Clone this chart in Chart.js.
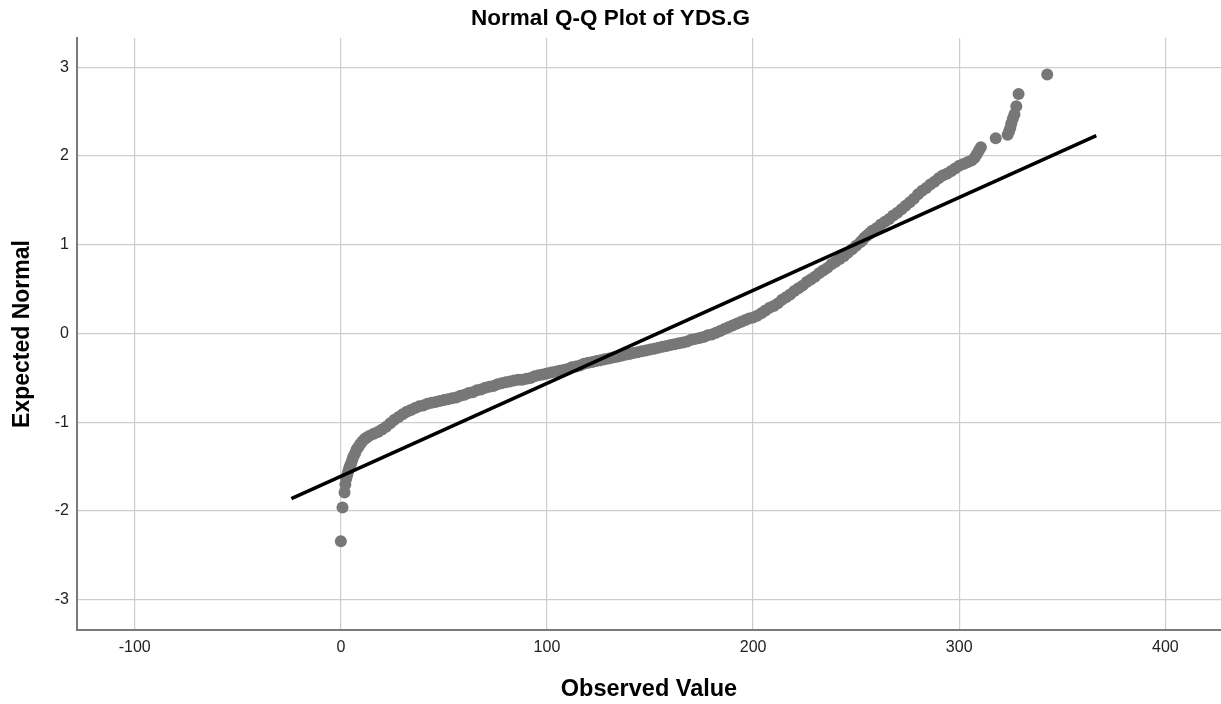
<!DOCTYPE html>
<html>
<head>
<meta charset="utf-8">
<script src="https://cdn.jsdelivr.net/npm/chart.js@4.4.1/dist/chart.umd.min.js"></script>
<style>
  html, body { margin: 0; padding: 0; background: #fff; }
  #wrap { width: 1221px; height: 704px; }
</style>
</head>
<body>
<div id="wrap"><canvas id="myChart"></canvas></div>
<script>
// observed YDS.G values and their expected normal scores
var observed = [0, 0.8, 1.8, 2.2, 2.6, 3.0, 3.5, 4.0, 4.5, 5.0, 5.6, 6.2, 6.9, 7.6, 8.4, 9.3, 10.3, 11.4, 12.6, 14,
    16, 18, 20, 22, 24, 26, 28, 30, 32, 34, 36, 38, 40, 42, 44, 46, 48, 50, 52, 54,
    56, 58, 60, 62, 64, 66, 68, 70, 72, 74, 76, 78, 80, 82, 84, 86, 88, 90, 92, 94,
    96, 98, 100, 102, 104, 106, 108, 110, 112, 114, 116, 118, 120, 122, 124, 126, 128, 130, 132, 134,
    136, 138, 140, 142, 144, 146, 148, 150, 152, 154, 156, 158, 160, 162, 164, 166, 168, 170, 172, 174,
    176, 178, 180, 182, 184, 186, 188, 190, 192, 194, 196, 198, 200, 202, 204, 206, 208, 210, 212, 214,
    216, 218, 220, 222, 224, 226, 228, 230, 232, 234, 236, 238, 240, 242, 244, 246, 248, 250, 252, 253,
    254, 255, 256, 257, 258, 260, 262, 264, 266, 268, 270, 272, 274, 276, 278, 280, 282, 284, 286, 288,
    290, 292, 294, 296, 298, 300, 302, 304, 306, 307.5, 308.5, 309.5, 310.5, 317.7, 323.5, 324.2, 324.8, 325.3, 326, 326.8,
    327.7, 328.8, 342.7]
var expected = [-2.34, -1.96, -1.79, -1.70, -1.64, -1.60, -1.56, -1.52, -1.49, -1.46, -1.42, -1.38, -1.35, -1.31, -1.28, -1.25, -1.22, -1.19, -1.17, -1.15,
    -1.13, -1.11, -1.08, -1.05, -1.01, -0.97, -0.94, -0.91, -0.88, -0.86, -0.84, -0.82, -0.81, -0.79, -0.78, -0.77, -0.76, -0.75, -0.74, -0.73,
    -0.72, -0.70, -0.69, -0.67, -0.66, -0.64, -0.63, -0.61, -0.60, -0.59, -0.57, -0.56, -0.55, -0.54, -0.53, -0.52, -0.52, -0.51, -0.50, -0.48,
    -0.47, -0.46, -0.45, -0.44, -0.43, -0.42, -0.41, -0.40, -0.38, -0.37, -0.36, -0.34, -0.33, -0.32, -0.31, -0.30, -0.29, -0.28, -0.27, -0.26,
    -0.25, -0.24, -0.23, -0.22, -0.21, -0.20, -0.19, -0.18, -0.17, -0.16, -0.15, -0.14, -0.13, -0.12, -0.11, -0.10, -0.09, -0.07, -0.06, -0.05,
    -0.04, -0.02, -0.01, 0.01, 0.03, 0.05, 0.07, 0.09, 0.11, 0.13, 0.15, 0.17, 0.18, 0.20, 0.23, 0.26, 0.29, 0.31, 0.34, 0.38,
    0.41, 0.44, 0.48, 0.51, 0.54, 0.58, 0.61, 0.64, 0.68, 0.71, 0.74, 0.78, 0.81, 0.84, 0.87, 0.91, 0.95, 0.99, 1.03, 1.05,
    1.08, 1.10, 1.12, 1.14, 1.16, 1.19, 1.23, 1.26, 1.29, 1.33, 1.36, 1.40, 1.44, 1.48, 1.52, 1.57, 1.61, 1.64, 1.68, 1.71,
    1.75, 1.78, 1.80, 1.83, 1.86, 1.89, 1.91, 1.93, 1.95, 1.98, 2.02, 2.06, 2.10, 2.20, 2.24, 2.28, 2.32, 2.37, 2.42, 2.47,
    2.56, 2.70, 2.92]
// reference line end points
var lineX = [-24, 366.5]
var lineY = [-1.86, 2.23]
var xTicks = [-100, 0, 100, 200, 300, 400]
var yTicks = [-3, -2, -1, 0, 1, 2, 3]

document.addEventListener('DOMContentLoaded', function () {
    var points = observed.map(function (v, i) { return { x: v, y: expected[i] } })
    var linePts = lineX.map(function (v, i) { return { x: v, y: lineY[i] } })
    var ctx = document.getElementById('myChart').getContext('2d');
    new Chart(ctx, {
        type: 'scatter',
        data: {
            datasets: [{
                label: 'Line',
                data: linePts,
                showLine: true,
                borderColor: '#000000',
                borderWidth: 3.5,
                pointRadius: 0
            }, {
                label: 'Observed',
                data: points,
                backgroundColor: '#777777',
                borderWidth: 0,
                pointRadius: 6,
                pointHoverRadius: 6
            }]
        },
        options: {
            responsive: true,
            maintainAspectRatio: false,
            animation: false,
            layout: { padding: 0, autoPadding: false },
            plugins: {
                legend: { display: false },
                tooltip: { enabled: false },
                title: {
                    display: true,
                    text: 'Normal Q-Q Plot of YDS.G',
                    color: '#000',
                    font: { family: 'Liberation Sans, Arial, sans-serif', size: 22.5, weight: 'bold' },
                    padding: { top: 5, bottom: 6 }
                }
            },
            scales: {
                x: {
                    type: 'linear',
                    min: -128,
                    max: 427,
                    afterFit: function (s) { s.height = 74; s.paddingLeft = 0; s.paddingRight = 0 },
                    afterBuildTicks: function (s) { s.ticks = xTicks.map(function (v) { return { value: v } }) },
                    ticks: {
                        color: '#222',
                        padding: 8,
                        maxRotation: 0,
                        font: { family: 'Liberation Sans, Arial, sans-serif', size: 16 }
                    },
                    grid: { color: '#cdcdcd', lineWidth: 1.2, drawTicks: false },
                    border: { color: '#7a7a7a', width: 2 },
                    title: {
                        display: true,
                        text: 'Observed Value',
                        color: '#000',
                        font: { family: 'Liberation Sans, Arial, sans-serif', size: 23.5, weight: 'bold' },
                        padding: { top: 0, bottom: 0 }
                    }
                },
                y: {
                    type: 'linear',
                    min: -3.34,
                    max: 3.33,
                    afterFit: function (s) { s.width = 77 },
                    afterBuildTicks: function (s) { s.ticks = yTicks.map(function (v) { return { value: v } }) },
                    ticks: {
                        color: '#222',
                        padding: 8,
                        font: { family: 'Liberation Sans, Arial, sans-serif', size: 16 }
                    },
                    grid: { color: '#cdcdcd', lineWidth: 1.2, drawTicks: false },
                    border: { color: '#7a7a7a', width: 2 },
                    title: {
                        display: true,
                        text: 'Expected Normal',
                        color: '#000',
                        font: { family: 'Liberation Sans, Arial, sans-serif', size: 23, weight: 'bold' },
                        padding: { top: 9, bottom: 0 }
                    }
                }
            }
        }
    });
});
</script>
</body>
</html>
